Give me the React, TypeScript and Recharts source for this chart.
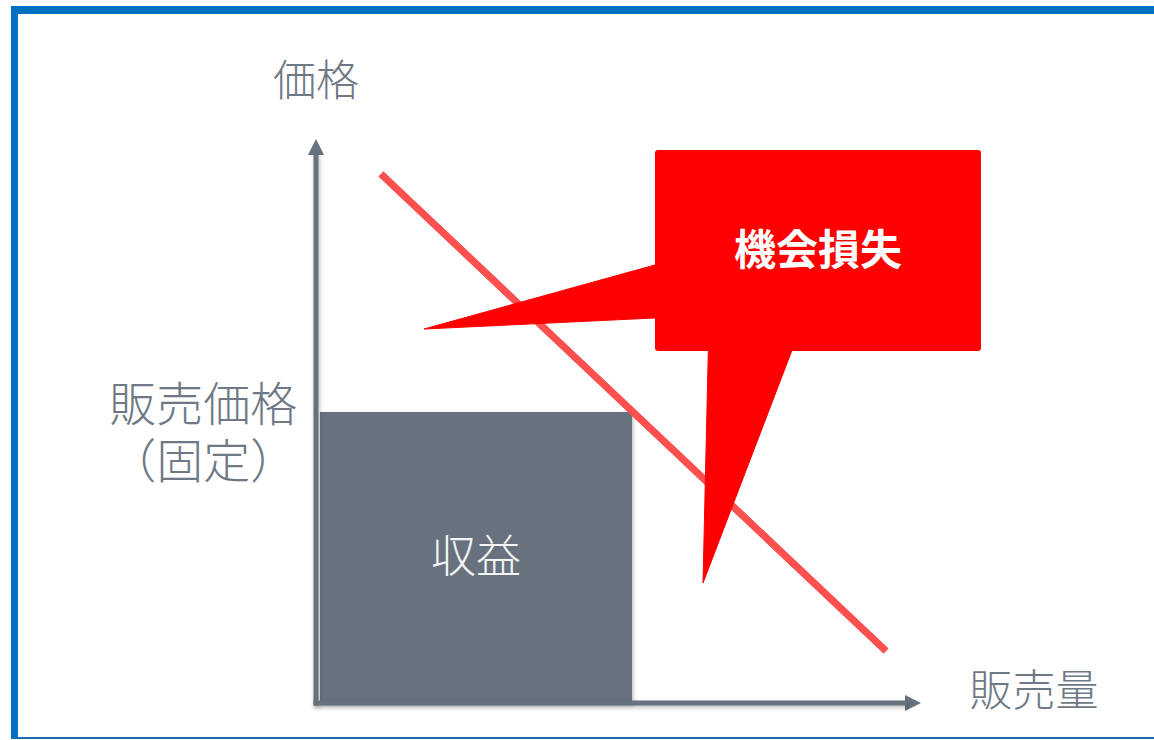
import React from 'react';
import { ComposedChart, XAxis, YAxis, Line, Area, ReferenceArea, ReferenceDot } from 'recharts';

// Units: quantity (x) and price (y), arbitrary scale 0..100
const yAxisShaft = [{ x: 0, y: -0.4 }, { x: 0, y: 91.6 }];
const xAxisShaft = [{ x: -0.4, y: 0 }, { x: 98.5, y: 0 }];
const yArrowHead = [{ x: -1.35, r: [91.33, 91.33] }, { x: 0, r: [91.33, 94] }, { x: 1.35, r: [91.33, 91.33] }];
const xArrowHead = [{ x: 98.17, r: [-1.35, 1.35] }, { x: 100.83, r: [0, 0] }];
const demandCurve = [{ x: 10.83, r: [88.17, 88.17] }, { x: 95, r: [8.67, 8.67] }];
const fixedPrice = 48.5;
const revenueQty = [0.67, 52.67];
const calloutX = [56.5, 110.83];
const calloutY = [58.67, 92.17];
const tailLeft = [{ x: 18, r: [62.33, 62.33] }, { x: 58, r: [64.24, 73.42] }];
const tailDown = [{ x: 64.5, r: [20, 20] }, { x: 65.44, r: [22.46, 61] }, { x: 80.17, r: [61, 61] }];
const axisLabels = [
  { text: '価格', x: 0, y: 103.67 },
  { text: '販売量', x: 119.67, y: 2 },
];
const priceLabels = [
  { text: '販売価格', x: -18.8, y: 49.7 },
  { text: '（固定）', x: -18.8, y: 40.2 },
];
const revenueLabel = '収益';
const calloutLabel = '機会損失';

const GRAY = '#67727E';
const TEXT = '#6E7985';
const RED = '#FF0000';
const FONT = '"Noto Sans CJK JP", "Noto Sans", sans-serif';
const shadow = 'drop-shadow(1px 2px 2px rgba(0,0,0,0.28))';

export default function App() {
  return (
    <div style={{ position: 'fixed', left: 0, top: 0, width: 1154, height: 740, overflow: 'hidden', background: '#fff' }}>
      <div
        style={{
          position: 'absolute', left: 11, top: 6, width: 1170, height: 733, boxSizing: 'border-box',
          borderTop: '8px solid #0070C0', borderLeft: '7px solid #0070C0', borderBottom: '2px solid #1F6DAE',
        }}
      />
      <div style={{ position: 'absolute', left: 0, top: 0 }}>
        <ComposedChart width={1154} height={740} margin={{ top: 43, right: 28, bottom: 7, left: 16 }}>
          <XAxis type="number" dataKey="x" domain={[-50, 135]} allowDataOverflow hide />
          <YAxis type="number" domain={[-5, 110]} allowDataOverflow hide />
          <ReferenceArea
            x1={revenueQty[0]} x2={revenueQty[1]} y1={0} y2={fixedPrice} ifOverflow="visible"
            shape={(p: any) => <rect x={p.x} y={p.y} width={p.width} height={p.height} fill={GRAY} style={{ filter: shadow }} />}
            label={{ value: revenueLabel, position: 'center', fill: '#F4F5F6', fontSize: 45, fontFamily: FONT, fontWeight: 300 }}
          />
          <Line data={yAxisShaft} dataKey="y" stroke={GRAY} strokeWidth={5} dot={false} activeDot={false} isAnimationActive={false} style={{ filter: shadow }} />
          <Line data={xAxisShaft} dataKey="y" stroke={GRAY} strokeWidth={5} dot={false} activeDot={false} isAnimationActive={false} style={{ filter: shadow }} />
          <Area data={yArrowHead} dataKey="r" type="linear" fill={GRAY} fillOpacity={1} stroke="none" dot={false} activeDot={false} isAnimationActive={false} />
          <Area data={xArrowHead} dataKey="r" type="linear" fill={GRAY} fillOpacity={1} stroke="none" dot={false} activeDot={false} isAnimationActive={false} />
          <Area data={demandCurve} dataKey="r" type="linear" fill="none" stroke="#FF5050" strokeWidth={7} dot={false} activeDot={false} isAnimationActive={false} />
          <Area data={tailLeft} dataKey="r" type="linear" fill={RED} fillOpacity={1} stroke={RED} strokeWidth={1} dot={false} activeDot={false} isAnimationActive={false} />
          <Area data={tailDown} dataKey="r" type="linear" fill={RED} fillOpacity={1} stroke={RED} strokeWidth={1} dot={false} activeDot={false} isAnimationActive={false} />
          <ReferenceArea
            x1={calloutX[0]} x2={calloutX[1]} y1={calloutY[0]} y2={calloutY[1]} ifOverflow="visible"
            shape={(p: any) => <rect x={p.x} y={p.y} width={p.width} height={p.height} rx={3} ry={3} fill={RED} />}
            label={{ value: calloutLabel, position: 'center', fill: '#FFFFFF', fontSize: 42, fontFamily: FONT, fontWeight: 700 }}
          />
          {axisLabels.map((l) => (
            <ReferenceDot key={l.text} x={l.x} y={l.y} r={0} fill="none" stroke="none" ifOverflow="visible"
              label={{ value: l.text, position: 'center', fill: TEXT, fontSize: 43, fontFamily: FONT, fontWeight: 300 }} />
          ))}
          {priceLabels.map((l) => (
            <ReferenceDot key={l.text} x={l.x} y={l.y} r={0} fill="none" stroke="none" ifOverflow="visible"
              label={{ value: l.text, position: 'center', fill: TEXT, fontSize: 47, fontFamily: FONT, fontWeight: 300 }} />
          ))}
        </ComposedChart>
      </div>
    </div>
  );
}
